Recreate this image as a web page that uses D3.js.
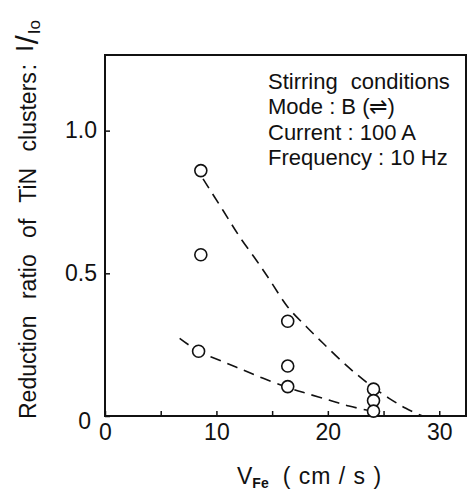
<!DOCTYPE html>
<html>
<head>
<meta charset="utf-8">
<script src="https://cdn.jsdelivr.net/npm/d3@7"></script>
<style>
  html, body { margin: 0; padding: 0; background: #fff; }
  svg text { font-family: "Liberation Sans", Arial, Helvetica, sans-serif; fill: #111; }
</style>
</head>
<body>
<svg id="chart" width="474" height="492"></svg>
<script>
// ---- data ----
const pointX = [8.6, 8.6, 8.4, 16.4, 16.4, 16.4, 24.1, 24.1, 24.1];
const pointY = [0.86, 0.565, 0.227, 0.332, 0.175, 0.103, 0.094, 0.054, 0.017];

const upperCurveX = [8.8, 10.6, 12.1, 13.6, 14.8, 16.4, 18.1, 19.6, 21.3, 22.5, 24.0, 25.5, 27.0, 28.5];
const upperCurveY = [0.831, 0.720, 0.627, 0.545, 0.476, 0.382, 0.312, 0.254, 0.190, 0.149, 0.102, 0.062, 0.027, 0.0];

const lowerCurveX = [6.7, 8.4, 10.6, 12.4, 14.2, 16.4, 18.1, 20.1, 21.9, 23.7];
const lowerCurveY = [0.272, 0.227, 0.190, 0.161, 0.132, 0.100, 0.079, 0.056, 0.035, 0.019];

const xTickValues = [0, 5, 10, 15, 20, 25, 30];
const xTickLabels = ["0", "", "10", "", "20", "", "30"];
const yTickValues = [0, 0.5, 1.0];
const yTickLabels = ["0", "0.5", "1.0"];

const noteLines = ["Stirring conditions", "Mode : B (\u21CC)", "Current : 100 A", "Frequency : 10 Hz"];

// ---- layout ----
const svg = d3.select("#chart");
const mLeft = 105, mRight = 466, mTop = 55, mBottom = 416;

const x = d3.scaleLinear().domain([0, 32.4]).range([mLeft, mRight]);
const y = d3.scaleLinear().domain([0, 1.265]).range([mBottom, mTop]);

// frame
svg.append("rect")
  .attr("x", mLeft).attr("y", mTop)
  .attr("width", mRight - mLeft).attr("height", mBottom - mTop)
  .attr("fill", "none").attr("stroke", "#111").attr("stroke-width", 2);

// x axis
const xAxis = d3.axisBottom(x)
  .tickValues(xTickValues)
  .tickSize(-5)
  .tickPadding(8)
  .tickFormat((d, i) => xTickLabels[i]);
const gx = svg.append("g").attr("transform", `translate(0,${mBottom})`).call(xAxis);
gx.select(".domain").remove();
gx.selectAll(".tick line").attr("stroke", "#111").attr("stroke-width", 1.5);
gx.selectAll(".tick text").attr("font-size", 23).attr("fill", "#111");

// y axis
const yAxis = d3.axisLeft(y)
  .tickValues(yTickValues)
  .tickSize(-5)
  .tickPadding(8)
  .tickFormat((d, i) => yTickLabels[i]);
const gy = svg.append("g").attr("transform", `translate(${mLeft},0)`).call(yAxis);
gy.select(".domain").remove();
gy.selectAll(".tick line").attr("stroke", "#111").attr("stroke-width", 1.5);
gy.selectAll(".tick text").attr("font-size", 23).attr("fill", "#111")
  .attr("dx", (d) => d === 0 ? -6 : 0)
  .attr("dy", (d) => d === 0 ? "0.55em" : "0.32em");

// curves
const line = d3.line()
  .x(d => x(d[0])).y(d => y(d[1]))
  .curve(d3.curveCatmullRom.alpha(0.5));

svg.append("path")
  .datum(upperCurveX.map((v, i) => [v, upperCurveY[i]]))
  .attr("d", line)
  .attr("fill", "none").attr("stroke", "#111").attr("stroke-width", 1.6)
  .attr("stroke-dasharray", "11,7");

svg.append("path")
  .datum(lowerCurveX.map((v, i) => [v, lowerCurveY[i]]))
  .attr("d", line)
  .attr("fill", "none").attr("stroke", "#111").attr("stroke-width", 1.6)
  .attr("stroke-dasharray", "11,7");

// points
svg.append("g").selectAll("circle")
  .data(pointX.map((v, i) => [v, pointY[i]]))
  .join("circle")
  .attr("cx", d => x(d[0])).attr("cy", d => y(d[1]))
  .attr("r", 6)
  .attr("fill", "#fff").attr("stroke", "#111").attr("stroke-width", 1.6);

// annotation
const note = svg.append("text").attr("font-size", 22);
noteLines.forEach((t, i) => {
  note.append("tspan").attr("x", 268).attr("y", 89 + i * 25.3)
    .attr("word-spacing", i === 0 ? 7 : 0)
    .text(t);
});

// x axis title
const xt = svg.append("text")
  .attr("x", 237).attr("y", 484).attr("font-size", 23);
xt.append("tspan").text("V");
xt.append("tspan").attr("font-size", 14).attr("font-weight", "bold").attr("dy", 4).text("Fe");
xt.append("tspan").attr("dy", -4).attr("dx", 14).attr("letter-spacing", 1).text("( cm / s )");

// y axis title
const yt = svg.append("text")
  .attr("transform", "translate(36,419) rotate(-90)")
  .attr("font-size", 23);
yt.append("tspan").attr("word-spacing", 10).text("Reduction ratio of TiN clusters");
yt.append("tspan").attr("dx", 2).text(":");
yt.append("tspan").attr("dx", 12).attr("dy", -3).attr("font-size", 24).text("I");
yt.append("tspan").attr("dx", 1).attr("dy", 5).attr("font-size", 32).text("/");
yt.append("tspan").attr("dx", 1).attr("dy", 2).attr("font-size", 17).text("Io");
</script>
</body>
</html>
